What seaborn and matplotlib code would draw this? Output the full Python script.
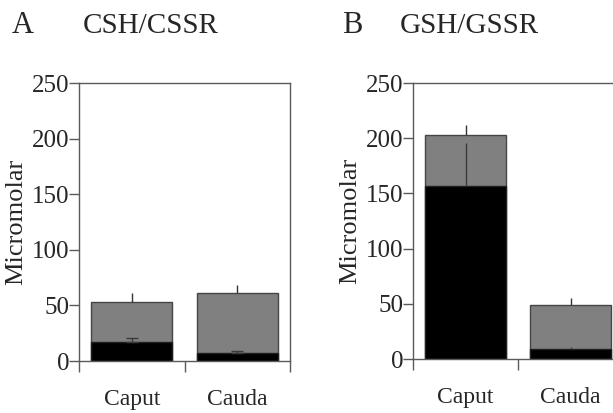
import matplotlib
matplotlib.use("Agg")
import matplotlib.pyplot as plt
import seaborn as sns
import pandas as pd

categories = ["Caput", "Cauda"]
# Panel A (CSH black, CSSR gray stacked on top)
csh = [17, 7]
cssr = [36, 54]
csh_err = [4, 2]
cssr_err = [8, 7]
# Panel B (GSH black, GSSR gray stacked on top)
gsh = [157, 9]
gssr = [46, 40]
gsh_err = [39, 2]
gssr_err = [9, 6]
y_ticks = [0, 50, 100, 150, 200, 250]

sns.set_style("white")
plt.rcParams['font.family'] = ['Liberation Serif', 'DejaVu Serif']

fig = plt.figure(figsize=(6.13, 4.13), dpi=100)
axA = fig.add_axes([79/613, 52/413, 211/613, 278/413])
axB = fig.add_axes([413/613, 54/413, 210/613, 276/413])

spine_c = "#5a5a5a"


def panel(ax, red, ox, red_err, ox_err, black_caps):
    total = [r + o for r, o in zip(red, ox)]
    df = pd.DataFrame({"cat": categories, "total": total, "red": red})
    sns.barplot(data=df, x="cat", y="total", color="#808080", edgecolor="#454545",
                linewidth=1, width=0.77, saturation=1, ax=ax, errorbar=None)
    sns.barplot(data=df, x="cat", y="red", color="black", edgecolor="#202020",
                linewidth=1, width=0.77, saturation=1, ax=ax, errorbar=None)
    for i in range(len(categories)):
        ax.errorbar([i], [total[i]], yerr=[[0], [ox_err[i]]], fmt="none",
                    ecolor="#333333", elinewidth=1, capsize=0, zorder=5)
        ax.errorbar([i], [red[i]], yerr=[[0], [red_err[i]]], fmt="none",
                    ecolor="#3a3a3a", elinewidth=1, capsize=black_caps[i],
                    capthick=1, zorder=5)
    ax.set_xlim(-0.5, 1.5)
    ax.set_ylim(0, 250)
    ax.set_yticks(y_ticks)
    ax.set_yticklabels([str(t) for t in y_ticks])
    ax.set_xticks([-0.5, 0.5, 1.5])
    ax.set_xticklabels(["", "", ""])
    ax.set_xticks([0, 1], minor=True)
    ax.set_xticklabels(categories, minor=True)
    ax.tick_params(axis="x", which="major", direction="out", length=8, width=1,
                   color=spine_c, bottom=True)
    ax.tick_params(axis="x", which="minor", length=0, pad=20, labelsize=17, bottom=True)
    ax.tick_params(axis="y", direction="out", length=7, width=1, color=spine_c,
                   pad=0, labelsize=18, left=True)
    ax.set_xlabel("")
    ax.set_ylabel("Micromolar", fontsize=19, labelpad=3)
    for s in ax.spines.values():
        s.set_visible(True)
        s.set_color(spine_c)
        s.set_linewidth(1)


panel(axA, csh, cssr, csh_err, cssr_err, [4, 4])
panel(axB, gsh, gssr, gsh_err, gssr_err, [0, 0])

fig.text(12/613, 1 - 33/413, "A", fontsize=22, va="baseline", ha="left")
fig.text(83/613, 1 - 33/413, "CSH/CSSR", fontsize=21, va="baseline", ha="left")
fig.text(342/613, 1 - 33/413, "B", fontsize=22, va="baseline", ha="left")
fig.text(400/613, 1 - 33/413, "GSH/GSSR", fontsize=21, va="baseline", ha="left")

fig.savefig("out.png", dpi=100)
